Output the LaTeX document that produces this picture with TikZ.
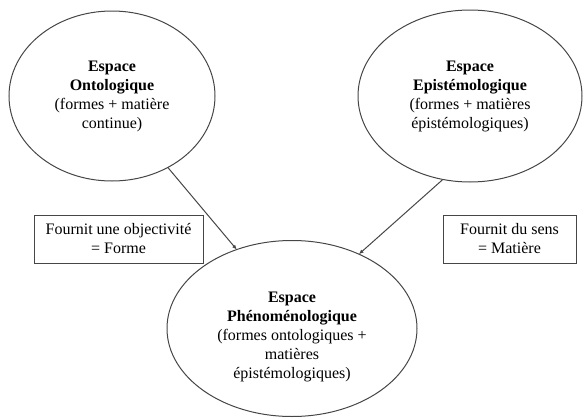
\documentclass[tikz,border=0pt]{standalone}
\usepackage{fontspec}
\setmainfont{Liberation Serif}
\usetikzlibrary{arrows.meta}
\usetikzlibrary{shapes.geometric}

\tikzset{
  espace/.style={draw={rgb,255:red,70;green,70;blue,70}, line width=0.75pt, ellipse, inner sep=0pt, outer sep=0pt, align=center, font=\fontsize{12}{14.25}\selectfont},
  fournit/.style={draw={rgb,255:red,70;green,70;blue,70}, line width=0.75pt, rectangle, inner sep=0pt, align=center, font=\fontsize{12}{14.25}\selectfont},
  lien/.style={draw={rgb,255:red,70;green,70;blue,70}, line width=0.75pt, -{Latex[length=3.5pt,width=3pt]}}
}

\begin{document}
\begin{tikzpicture}[x=0.75pt,y=0.75pt,yscale=-1,xscale=1]
\useasboundingbox (0,0) rectangle (583,418);

% Ellipses
\node [espace, minimum width=154.5pt, minimum height=127.5pt] (onto) at (112,96) {\textbf{Espace}\\\textbf{Ontologique}\\(formes + matière\\continue)};
\node [espace, minimum width=168pt, minimum height=129pt] (episte) at (470,96) {\textbf{Espace}\\\textbf{Epistémologique}\\(formes + matières\\épistémologiques)};
\node [espace, minimum width=187.5pt, minimum height=132pt] (pheno) at (292,328.5) {};
\node [align=center, inner sep=0pt, font=\fontsize{12}{14.25}\selectfont] (phenotxt) at (292,337) {\textbf{Espace}\\\textbf{Phénoménologique}\\(formes ontologiques +\\matières\\épistémologiques)};

% Boxes
\node [fournit, minimum width=126.75pt, minimum height=36pt] (forme) at (118.5,239) {Fournit une objectivité\\= Forme};
\node [fournit, minimum width=99.75pt, minimum height=36pt] (matiere) at (509.5,239) {Fournit du sens\\= Matière};

% Arrows
\draw [lien] (onto.308) -- (pheno.125);
\draw [lien] (episte.252) -- (pheno.48);

\end{tikzpicture}
\end{document}
